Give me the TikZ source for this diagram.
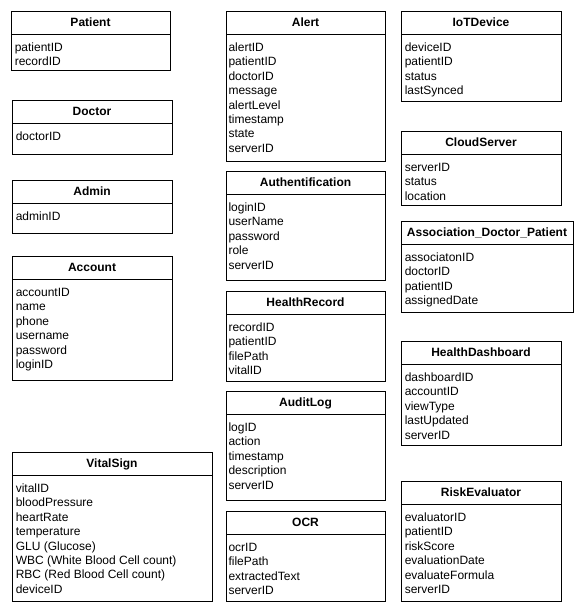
\documentclass[tikz,border=0pt]{standalone}
\usepackage{fontspec}
\setmainfont{Liberation Sans}
\tikzset{
  umlbox/.style={draw, line width=1pt, inner sep=0pt, anchor=north west, fill=white},
  umlline/.style={line width=1pt},
  umltitle/.style={font=\fontsize{12}{14.4}\selectfont\bfseries, inner sep=0pt, anchor=base},
  umlattr/.style={font=\fontsize{12}{14.4}\selectfont, inner sep=0pt, anchor=base west},
}
\newcommand\umlclass[8][3.6]{%
  \node[umlbox, minimum width=#5-#3, minimum height=#6-#4] (#2) at (#3,-#4) {};
  \draw[umlline] (#3,-#4-23.5) -- (#5,-#4-23.5);
  \node[umltitle] (#2-t) at ({(#3+#5)/2},{-#4-15.2}) {#7};
  \foreach \a [count=\i] in {#8} {
    \node[umlattr] (#2-\i) at (#3+#1,{-#4-40.5-(\i-1)*14.4}) {\a};
  }%
}
\begin{document}
\begin{tikzpicture}[x=1pt,y=1pt]
\useasboundingbox (0,0) rectangle (583,-612);
\umlclass{patient}{11}{11}{170}{70}{Patient}{patientID,recordID}
\umlclass{doctor}{12}{100}{172}{154}{Doctor}{doctorID}
\umlclass{admin}{12}{180}{172}{233}{Admin}{adminID}
\umlclass{account}{12}{256}{172}{380}{Account}{accountID,name,phone,username,password,loginID}
\umlclass{vital}{12}{452}{212}{601}{VitalSign}{vitalID,bloodPressure,heartRate,temperature,GLU (Glucose),WBC (White Blood Cell count),RBC (Red Blood Cell count),deviceID}
\umlclass[2.3]{alert}{226}{11}{385}{161}{Alert}{alertID,patientID,doctorID,message,alertLevel,timestamp,state,serverID}
\umlclass[2.3]{auth}{226}{171}{385}{280}{Authentification}{loginID,userName,password,role,serverID}
\umlclass[2.3]{record}{226}{291}{385}{381}{HealthRecord}{recordID,patientID,filePath,vitalID}
\umlclass[2.3]{audit}{226}{391}{385}{500}{AuditLog}{logID,action,timestamp,description,serverID}
\umlclass[2.3]{ocr}{226}{511}{385}{601}{OCR}{ocrID,filePath,extractedText,serverID}
\umlclass{iot}{401}{11}{561}{101}{IoTDevice}{deviceID,patientID,status,lastSynced}
\umlclass{cloud}{401}{131}{561}{205}{CloudServer}{serverID,status,location}
\umlclass{assoc}{401}{221}{573}{312}{Association\_Doctor\_Patient}{associatonID,doctorID,patientID,assignedDate}
\umlclass{dash}{401}{341}{561}{445}{HealthDashboard}{dashboardID,accountID,viewType,lastUpdated,serverID}
\umlclass{risk}{401}{481}{561}{601}{RiskEvaluator}{evaluatorID,patientID,riskScore,evaluationDate,evaluateFormula,serverID}
\end{tikzpicture}
\end{document}
